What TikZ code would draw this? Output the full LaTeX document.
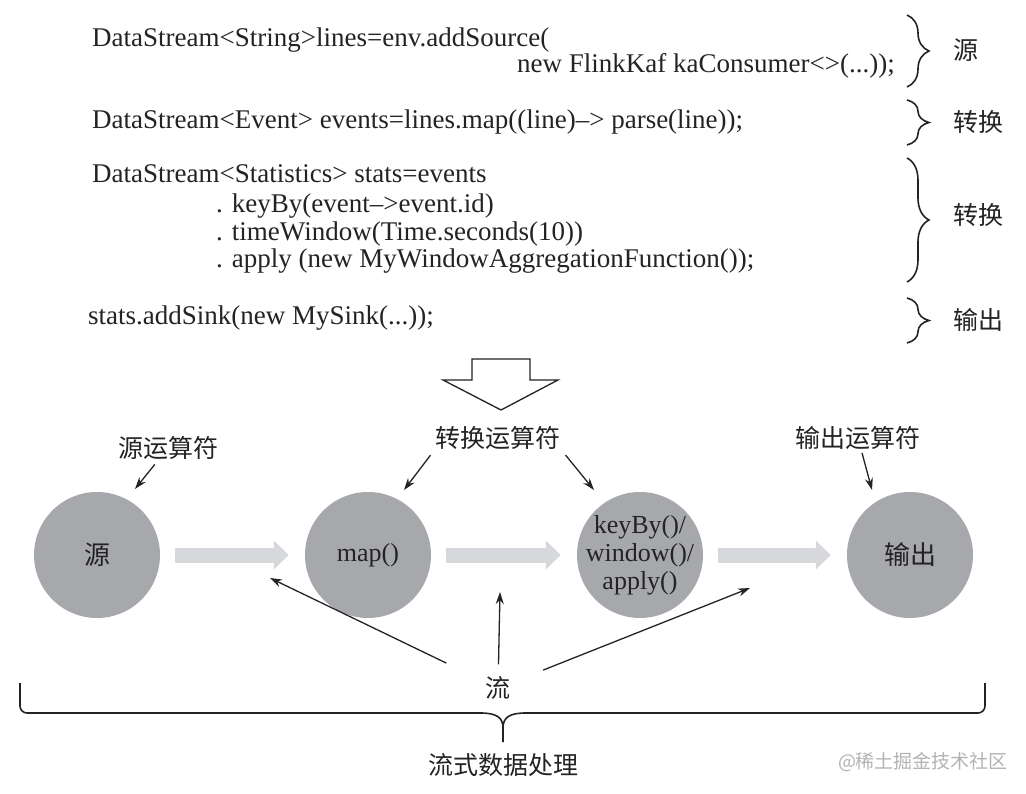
\documentclass[tikz,border=0pt]{standalone}
\usepackage{fontspec}
\setmainfont{Liberation Serif}
\newfontfamily\cjk{Noto Sans CJK SC}
\usetikzlibrary{arrows.meta,decorations.pathreplacing}
\definecolor{opgray}{RGB}{166,168,172}
\definecolor{flowgray}{RGB}{214,216,219}
\definecolor{ink}{RGB}{35,35,38}

\begin{document}
\begin{tikzpicture}[x=1pt,y=-1pt,
    code/.style={anchor=base west,inner sep=0pt,text=ink,font=\fontsize{27}{30}\selectfont},
    lbl/.style={inner sep=3pt,text=ink,font=\cjk\fontsize{25}{28}\selectfont},
    op/.style={circle,fill=opgray,minimum size=126pt,inner sep=-10pt,align=center,text=ink,font=\fontsize{26}{29}\selectfont},
    arr/.style={-{Stealth[length=12pt,width=8pt]},line width=1.3pt,draw=ink},
    flow/.style={line width=15pt,draw=flowgray,-{Triangle[length=15pt,width=28pt]},shorten <=15pt,shorten >=16pt},
    rb/.style={decorate,decoration={brace,amplitude=22pt},line width=1.6pt,draw=ink}]
    \useasboundingbox (0,0) rectangle (1026,794);
    
    \node[code] (a) at (92,47) {DataStream<String>lines=env.addSource(};
    \node[code] (b) at (517,73) {new FlinkKaf kaConsumer<>(...));};
    \node[code] (c) at (92,129) {DataStream<Event> events=lines.map((line)--> parse(line));};
    \node[code] (d) at (92,183) {DataStream<Statistics> stats=events};
    \node[code] (e) at (216,213) {. keyBy(event-->event.id)};
    \node[code] (f) at (216,241) {. timeWindow(Time.seconds(10))};
    \node[code] (g) at (216,268) {. apply (new MyWindowAggregationFunction());};
    \node[code] (h) at (88,325) {stats.addSink(new MySink(...));};
    
    \draw[rb] (907,15) -- (907,87);
    \draw[rb] (907,100) -- (907,145);
    \draw[rb] (907,158) -- (907,282);
    \draw[rb] (907,298) -- (907,343);
    \node[lbl,anchor=west] (i) at (950,50) {源};
    \node[lbl,anchor=west] (j) at (950,122) {转换};
    \node[lbl,anchor=west] (k) at (950,215) {转换};
    \node[lbl,anchor=west] (l) at (950,320) {输出};
    
    \draw[line width=1.3pt,draw=ink,fill=white] (472,359) -- (530,359) -- (530,380) -- (558,380)
        -- (501,410) -- (443,380) -- (472,380) -- cycle;
    
    \node[op] (src) at (97,555) {\cjk 源};
    \node[op] (map) at (368,555) {map()};
    \node[op] (kw) at (640,555) {keyBy()/\\[-1pt]window()/\\[-1pt]apply()};
    \node[op] (out) at (910,555) {\cjk 输出};
    
    \draw[flow] (src) -- (map);
    \draw[flow] (map) -- (kw);
    \draw[flow] (kw) -- (out);
    
    \node[lbl] (m) at (168,448) {源运算符};
    \node[lbl] (n) at (498,438) {转换运算符};
    \node[lbl] (o) at (858,438) {输出运算符};
    \coordinate (p) at (135,489);
    \coordinate (q) at (404,490);
    \coordinate (r) at (594,490);
    \coordinate (s) at (872,490);
    \draw[arr,shorten <=2pt] (m) -- (p);
    \draw[arr,shorten <=3pt] (n.south west) -- (q);
    \draw[arr,shorten <=3pt] (n.south east) -- (r);
    \draw[arr] (o) -- (s);
    
    \node[lbl,inner sep=12pt] (t) at (498,688) {流};
    \coordinate (u) at (270,578);
    \coordinate (v) at (500,592);
    \coordinate (w) at (750,588);
    \draw[arr,shorten <=30pt] (t) -- (u);
    \draw[arr] (t) -- (v);
    \draw[arr,shorten <=22pt] (t) -- (w);
    
    \draw[line width=1.6pt,draw=ink,rounded corners=7pt] (20,683) -- (20,713) -- (480,713);
    \draw[line width=1.6pt,draw=ink,rounded corners=7pt] (985,683) -- (985,713) -- (526,713);
    \draw[line width=1.6pt,draw=ink] (480,713) .. controls (496,713) and (503,717) .. (503,728) -- (503,742);
    \draw[line width=1.6pt,draw=ink] (526,713) .. controls (510,713) and (503,717) .. (503,728);
    \node[lbl] (x) at (503,765) {流式数据处理};
    \node[inner sep=0pt,text=black!30,font=\cjk\fontsize{19}{22}\selectfont] (y) at (923,762) {@稀土掘金技术社区};
    
\end{tikzpicture}
\end{document}
